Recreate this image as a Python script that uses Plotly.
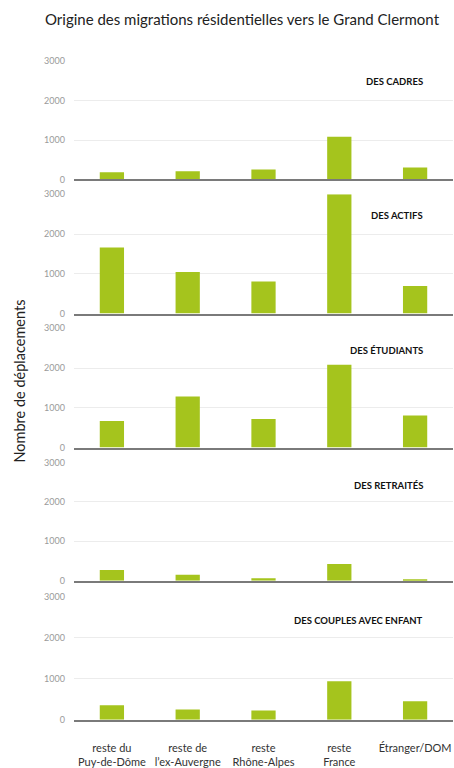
import plotly.graph_objects as go
from plotly.subplots import make_subplots

categories = ["reste du<br>Puy-de-Dôme", "reste de<br>l’ex-Auvergne", "reste<br>Rhône-Alpes", "reste<br>France", "Étranger/DOM"]
panel_labels = ["DES CADRES", "DES ACTIFS", "DES ÉTUDIANTS", "DES RETRAITÉS", "DES COUPLES AVEC ENFANT"]
cadres = [185, 210, 252, 1084, 302]
actifs = [1662, 1047, 806, 3000, 690]
etudiants = [667, 1283, 717, 2083, 808]
retraites = [267, 150, 58, 425, 33]
couples = [352, 248, 224, 936, 448]
series = [cadres, actifs, etudiants, retraites, couples]
y_ticks = [0, 1000, 2000, 3000]

W, H = 454, 768
# panel pixel extents (top = 3000 line, bottom = 0 line)
panels_px = [(56, 176), (191, 312), (327, 448), (463, 583), (599, 724)]
label_px = [77, 213, 349, 486, 623]

fig = make_subplots(rows=5, cols=1, shared_xaxes=False)
bar_color = "#a5c41d"
for i, vals in enumerate(series):
    fig.add_trace(go.Bar(x=categories, y=vals, marker=dict(color=bar_color, line=dict(width=0)),
                         hoverinfo="x+y", showlegend=False), row=i + 1, col=1)

x_dom = [74 / W, 453 / W]
for i, (top, bot) in enumerate(panels_px):
    n = "" if i == 0 else str(i + 1)
    fig.layout["yaxis" + n].update(
        domain=[1 - bot / H, 1 - top / H], range=[0, 3000], tickvals=y_ticks,
        showgrid=True, gridcolor="#ececec", gridwidth=1, zeroline=False,
        tickfont=dict(family="Lato", size=9, color="#9a9a9a"), ticklabelstandoff=8,
        showline=False, fixedrange=True)
    fig.layout["xaxis" + n].update(
        domain=x_dom, showline=True, linecolor="#7a7a7a", linewidth=2,
        showticklabels=(i == 4), showgrid=False, ticks="",
        tickfont=dict(family="Lato", size=11, color="#333333"), ticklabelstandoff=17,
        fixedrange=True)
    fig.add_annotation(text="<b>" + panel_labels[i] + "</b>", xref="paper", yref="paper",
                       x=425 / W, y=1 - label_px[i] / H, xanchor="right", yanchor="middle",
                       showarrow=False, font=dict(family="Lato", size=9.5, color="#111111"))

fig.add_annotation(text="Nombre de déplacements", xref="paper", yref="paper", x=20 / W, y=1 - 381 / H,
                   textangle=-90, showarrow=False, xanchor="center", yanchor="middle",
                   font=dict(family="Lato", size=14.5, color="#222222"))

fig.update_layout(
    width=W, height=H, margin=dict(l=0, r=0, t=0, b=0),
    paper_bgcolor="white", plot_bgcolor="white", bargap=0.68,
    title=dict(text="Origine des migrations résidentielles vers le Grand Clermont",
               x=242 / W, xanchor="center", y=1 - 20 / H, yanchor="middle",
               font=dict(family="Lato", size=15, color="#222222")),
)

fig.write_html("out.html", config={"displayModeBar": False},
               post_script="document.body.style.margin='0';document.body.style.overflow='hidden';")
